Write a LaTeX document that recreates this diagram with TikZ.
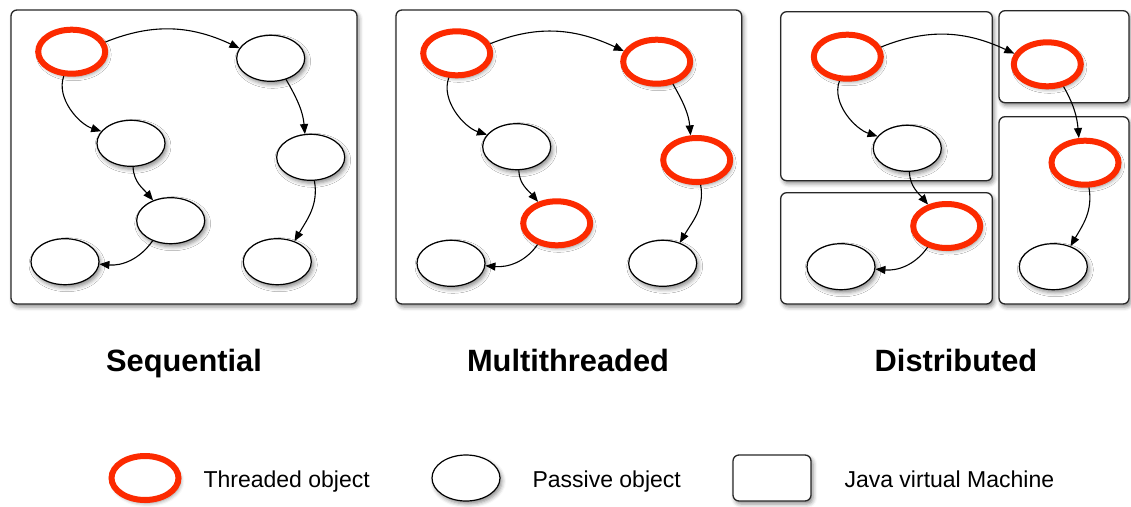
\documentclass[tikz,border=0pt]{standalone}
\usepackage{fontspec}
\setmainfont{Liberation Sans}
\usetikzlibrary{shapes.geometric,arrows.meta,shadows.blur}
\definecolor{thr}{RGB}{252,42,0}
\definecolor{boxline}{RGB}{40,40,40}
\tikzset{
  shd/.style={blur shadow={shadow xshift=2pt,shadow yshift=-3pt,shadow blur radius=4pt,shadow opacity=45}},
  passive/.style={ellipse,draw=black,line width=1.2pt,fill=white,minimum width=68pt,minimum height=46pt,inner sep=0pt,shd},
  threaded/.style={ellipse,draw=thr,line width=6pt,fill=white,minimum width=67pt,minimum height=44pt,inner sep=0pt,shd},
  jvm/.style={draw=boxline,line width=1.3pt,fill=white,rounded corners=6pt,shd},
  conn/.style={draw=black,line width=1.1pt,-{Triangle[length=10pt,width=8pt]}},
  title/.style={font=\fontsize{30.8}{34}\selectfont\bfseries,anchor=base},
  legtext/.style={font=\fontsize{23}{26}\selectfont,anchor=base west},
}
\begin{document}
\begin{tikzpicture}[x=1pt,y=1pt]
\useasboundingbox (0,0) rectangle (1131,-506);
% boxes
\path[jvm] (11,-10) rectangle (357,-304);
\path[jvm] (396,-10) rectangle (741.7,-304);
\path[jvm] (780.7,-11.7) rectangle (992.3,-180.7);
\path[jvm] (999,-10.7) rectangle (1129,-102.7);
\path[jvm] (780.7,-192.7) rectangle (992.3,-304);
\path[jvm] (999,-116.7) rectangle (1129,-304);
% panel 1
\node[threaded] (a1) at (71.7,-51.7) {};
\node[passive] (a2) at (270.7,-58.3) {};
\node[passive] (a3) at (131,-143.3) {};
\node[passive] (a4) at (310.7,-157.3) {};
\node[passive] (a5) at (170.7,-220.7) {};
\node[passive] (a6) at (65,-261.7) {};
\node[passive] (a7) at (277.3,-261.7) {};
% panel 2
\node[threaded] (b1) at (456.7,-53.3) {};
\node[threaded] (b2) at (656.7,-61.7) {};
\node[passive] (b3) at (516.7,-146.7) {};
\node[threaded] (b4) at (696.7,-160) {};
\node[threaded] (b5) at (556.7,-223.3) {};
\node[passive] (b6) at (451,-263.3) {};
\node[passive] (b7) at (662.7,-263.3) {};
% panel 3
\node[threaded] (c1) at (847.3,-56.7) {};
\node[threaded] (c2) at (1047.3,-64.3) {};
\node[passive] (c3) at (907.3,-148.3) {};
\node[threaded] (c4) at (1085,-162.7) {};
\node[threaded] (c5) at (946.7,-226) {};
\node[passive] (c6) at (841,-266.7) {};
\node[passive] (c7) at (1053.3,-266.7) {};
% connectors
\foreach \p in {a,b,c}{
  \draw[conn] (\p1.16) to[out=22,in=155] (\p2.162);
  \draw[conn] (\p1.-108) to[out=-110,in=162,looseness=0.9] (\p3.158);
  \draw[conn] (\p3.-85) to[out=-88,in=130] (\p5.131);
  \draw[conn] (\p5.-132) to[out=-125,in=-5] (\p6.-4);
  \draw[conn] (\p2.-54) to[out=-60,in=95] (\p4.104);
  \draw[conn] (\p4.-81) to[out=-80,in=60] (\p7.50);
}
% titles
\node[title] (t1) at (184,-371) {Sequential};
\node[title] (t2) at (568,-371) {Multithreaded};
\node[title] (t3) at (956,-371) {Distributed};
% legend
\node[threaded] (l1) at (145,-478) {};
\node[legtext] (l1t) at (200,-487) {Threaded object};
\node[passive] (l2) at (466,-478) {};
\node[legtext] (l2t) at (529,-487) {Passive object};
\path[jvm] (733,-455) rectangle (811,-501);
\node[legtext] (l3t) at (841,-487) {Java virtual Machine};
\end{tikzpicture}
\end{document}
